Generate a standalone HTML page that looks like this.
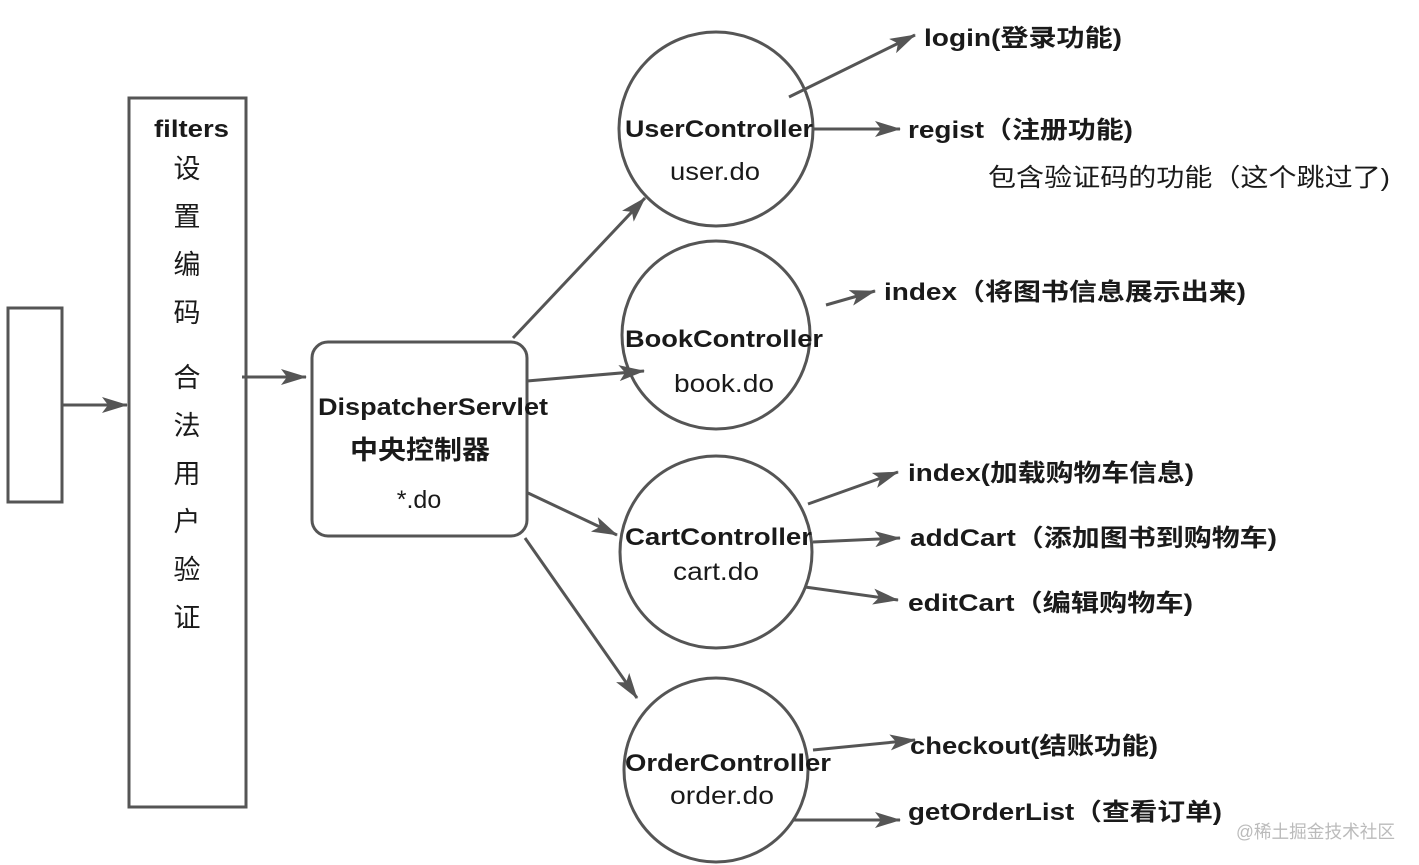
<!DOCTYPE html>
<html><head><meta charset="utf-8"><style>
html,body{margin:0;padding:0;background:#fff;}
svg{display:block;}
text{font-family:"Liberation Sans","Noto Sans CJK SC",sans-serif;fill:#1a1a1a;}
.b{font-weight:bold;font-size:24px;}
.n{font-size:25px;}
.c{font-size:27px;}
</style></head><body>
<svg width="1419" height="865" viewBox="0 0 1419 865" xmlns="http://www.w3.org/2000/svg">
<defs>
<marker id="A" markerWidth="26" markerHeight="16" refX="25" refY="8" orient="auto" markerUnits="userSpaceOnUse"><path d="M0,0 L26,8 L0,16 L6,8 z" fill="#555"/></marker></defs>
<g stroke="#555" stroke-width="3" fill="none">
<rect x="8" y="308" width="54" height="194"/>
<rect x="129" y="98" width="117" height="709"/>
<rect x="312" y="342" width="215" height="194" rx="16"/>
<circle cx="716" cy="129" r="97"/>
<circle cx="716" cy="335" r="94"/>
<circle cx="716" cy="552" r="96"/>
<circle cx="716" cy="770" r="92"/>
<g marker-end="url(#A)">
<line x1="62" y1="405" x2="127" y2="405"/>
<line x1="242" y1="377" x2="306" y2="377"/>
<line x1="513" y1="338" x2="645" y2="198"/>
<line x1="527" y1="381" x2="644" y2="371"/>
<line x1="528" y1="493" x2="617" y2="535"/>
<line x1="525" y1="538" x2="637" y2="698"/>
<line x1="789" y1="97" x2="915" y2="35"/>
<line x1="812" y1="129" x2="900" y2="129"/>
<line x1="826" y1="305" x2="875" y2="291"/>
<line x1="808" y1="504" x2="898" y2="472"/>
<line x1="813" y1="542" x2="900" y2="538"/>
<line x1="805" y1="587" x2="898" y2="600"/>
<line x1="813" y1="750" x2="915" y2="740"/>
<line x1="793" y1="820" x2="900" y2="820"/>
</g></g>
<text class="b" x="154" y="137" textLength="75" lengthAdjust="spacingAndGlyphs">filters</text>
<g class="c" text-anchor="middle">
<text x="187" y="178">设</text><text x="187" y="226">置</text><text x="187" y="274">编</text><text x="187" y="322">码</text>
<text x="187" y="387">合</text><text x="187" y="435">法</text><text x="187" y="483">用</text><text x="187" y="531">户</text><text x="187" y="579">验</text><text x="187" y="627">证</text>
</g>
<text class="b" x="318" y="415" textLength="230" lengthAdjust="spacingAndGlyphs">DispatcherServlet</text>
<text class="b" x="420" y="459" text-anchor="middle" style="font-size:26px" textLength="140" lengthAdjust="spacingAndGlyphs">中央控制器</text>
<text class="n" x="419" y="508" text-anchor="middle">*.do</text>
<text class="b" x="625" y="137" textLength="188" lengthAdjust="spacingAndGlyphs">UserController</text>
<text class="n" x="715" y="180" text-anchor="middle" textLength="90" lengthAdjust="spacingAndGlyphs">user.do</text>
<text class="b" x="625" y="347" textLength="198" lengthAdjust="spacingAndGlyphs">BookController</text>
<text class="n" x="724" y="392" text-anchor="middle" textLength="100" lengthAdjust="spacingAndGlyphs">book.do</text>
<text class="b" x="625" y="545" textLength="187" lengthAdjust="spacingAndGlyphs">CartController</text>
<text class="n" x="716" y="580" text-anchor="middle" textLength="86" lengthAdjust="spacingAndGlyphs">cart.do</text>
<text class="b" x="625" y="771" textLength="206" lengthAdjust="spacingAndGlyphs">OrderController</text>
<text class="n" x="722" y="804" text-anchor="middle" textLength="104" lengthAdjust="spacingAndGlyphs">order.do</text>
<text class="b" x="924" y="46" textLength="198" lengthAdjust="spacingAndGlyphs">login(登录功能)</text>
<text class="b" x="908" y="138" textLength="225" lengthAdjust="spacingAndGlyphs">regist（注册功能)</text>
<text class="n" x="988" y="186" textLength="402" lengthAdjust="spacingAndGlyphs">包含验证码的功能（这个跳过了)</text>
<text class="b" x="884" y="300" textLength="362" lengthAdjust="spacingAndGlyphs">index（将图书信息展示出来)</text>
<text class="b" x="908" y="481" textLength="286" lengthAdjust="spacingAndGlyphs">index(加载购物车信息)</text>
<text class="b" x="910" y="546" textLength="367" lengthAdjust="spacingAndGlyphs">addCart（添加图书到购物车)</text>
<text class="b" x="908" y="611" textLength="285" lengthAdjust="spacingAndGlyphs">editCart（编辑购物车)</text>
<text class="b" x="910" y="754" textLength="248" lengthAdjust="spacingAndGlyphs">checkout(结账功能)</text>
<text class="b" x="908" y="820" textLength="314" lengthAdjust="spacingAndGlyphs">getOrderList（查看订单)</text>
<text x="1236" y="838" style="font-size:18px;fill:#bbb" textLength="159" lengthAdjust="spacingAndGlyphs">@稀土掘金技术社区</text>
</svg>
</body></html>
